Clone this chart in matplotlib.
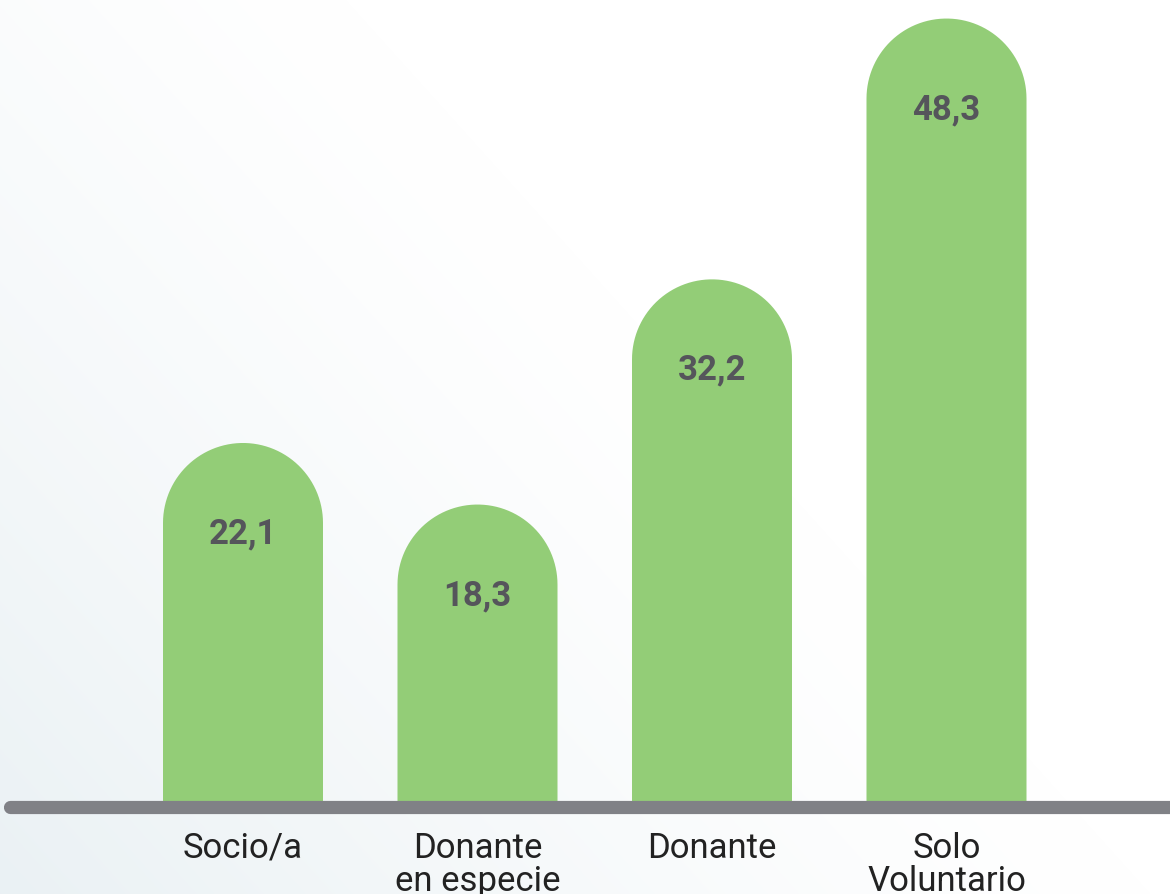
import numpy as np
import matplotlib
matplotlib.use("Agg")
import matplotlib.pyplot as plt
from matplotlib.patches import Polygon

# data
categories = ["Socio/a", "Donante\nen especie", "Donante", "Solo\nVoluntario"]
values = [22.1, 18.3, 32.2, 48.3]
value_labels = ["22,1", "18,3", "32,2", "48,3"]

W, H = 1170, 895
fig = plt.figure(figsize=(W / 100, H / 100), dpi=100)

# gradient background: pale grey-blue in bottom-left corner fading to white
bg = fig.add_axes([0, 0, 1, 1], zorder=0)
px, py = np.meshgrid(np.arange(W), np.arange(H)[::-1])
t = np.clip(1 - (px + 0.9 * py) / 1150.0, 0, 1) ** 1.3
c_white = np.array([1.0, 1.0, 1.0])
c_grey = np.array([0.918, 0.945, 0.957])
img = c_white + (c_grey - c_white) * t[..., None]
bg.imshow(img, extent=[0, 1, 0, 1], aspect="auto", origin="upper")
bg.axis("off")

ax = fig.add_axes([0, 0, 1, 1], zorder=1)
ax.patch.set_alpha(0)

# layout in pixels
x0_px, step_px = 243, 234.5
base_px = 93          # baseline from bottom
ypx = 16.2            # pixels per unit
ax.set_xlim(-x0_px / step_px, (W - x0_px) / step_px)
ax.set_ylim(-base_px / ypx, (H - base_px) / ypx)
ax.axis("off")

bar_w = 160 / step_px
rx = bar_w / 2
ry = 80 / ypx
green = "#93cd77"
x = np.arange(len(values))

ang = np.linspace(0, np.pi, 60)
for xi, v, lab in zip(x, values, value_labels):
    top = v - ry
    arc = np.column_stack([xi + rx * np.cos(ang), top + ry * np.sin(ang)])
    pts = np.vstack([[xi + rx, 0], arc, [xi - rx, 0]])
    ax.add_patch(Polygon(pts, closed=True, facecolor=green, edgecolor="none", zorder=2))
    ax.text(xi, v - 5.55, lab, ha="center", va="center", fontsize=25,
            fontweight="bold", family="Roboto", color="#55555b", zorder=4)

# baseline bar
ax.plot([(10 - x0_px) / step_px, 4.5], [-6 / ypx, -6 / ypx], color="#808186",
        lw=9.5, solid_capstyle="round", zorder=3)

for xi, c in zip(x, categories):
    ax.text(xi, -30 / ypx, c, ha="center", va="top", fontsize=25,
            family="Roboto", color="#222222", linespacing=1.0, zorder=4)

fig.savefig("out.png", dpi=100)
